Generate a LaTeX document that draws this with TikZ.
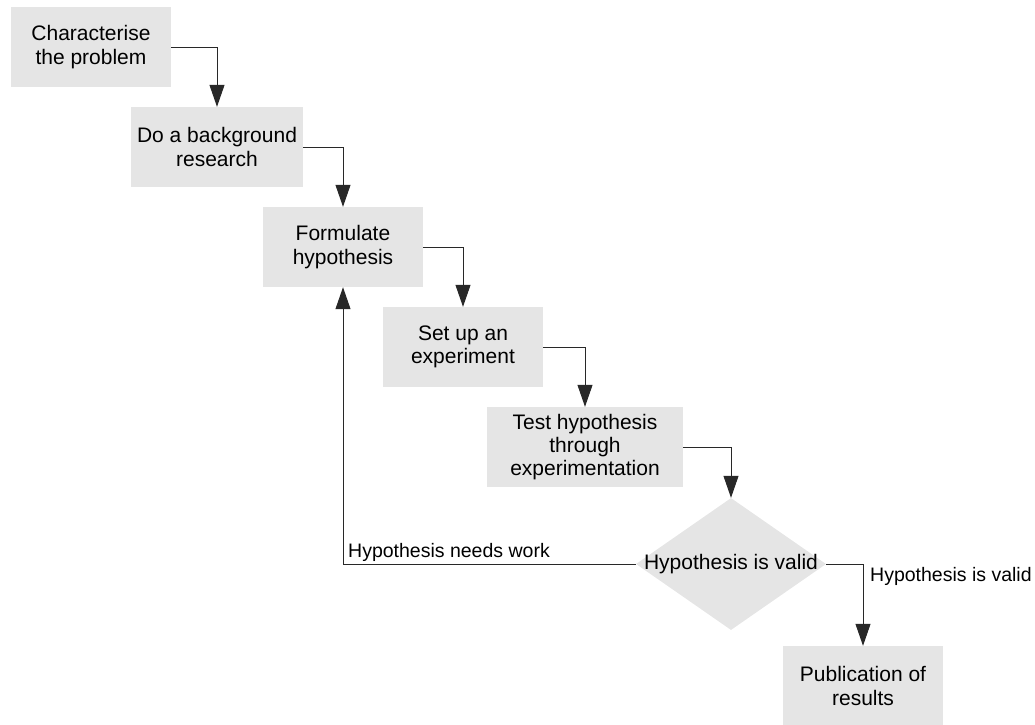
\documentclass[tikz,border=0pt]{standalone}
\usepackage{fontspec}
\setmainfont{Liberation Sans}
\usetikzlibrary{arrows.meta,shapes.geometric}

\definecolor{boxfill}{RGB}{229,229,229}
\definecolor{inkline}{RGB}{40,40,40}

\tikzset{
  stepbox/.style={rectangle, fill=boxfill, draw=none, align=center,
    font=\fontsize{21}{23.3}\selectfont, inner sep=0pt},
  decision/.style={diamond, fill=boxfill, draw=none, inner sep=0pt,
    minimum width=190pt, minimum height=132pt},
  decisiontext/.style={font=\fontsize{21}{23.3}\selectfont, inner sep=0pt},
  flow/.style={draw=inkline, line width=1pt,
    -{Triangle[length=22pt,width=15pt]}},
  edgelabel/.style={font=\fontsize{19.5}{22}\selectfont, inner sep=0pt}
}

\begin{document}
\begin{tikzpicture}[x=1pt,y=-1pt]
  \useasboundingbox (0,0) rectangle (1035,724);

  % process steps
  \node[stepbox, minimum width=160pt, minimum height=80pt] (charac) at (91,47)
    {Characterise\\the problem};
  \node[stepbox, minimum width=172pt, minimum height=80pt] (research) at (217,147)
    {Do a background\\research};
  \node[stepbox, minimum width=160pt, minimum height=80pt] (formulate) at (343,247)
    {Formulate\\hypothesis};
  \node[stepbox, minimum width=160pt, minimum height=80pt] (setup) at (463,347)
    {Set up an\\experiment};
  \node[stepbox, minimum width=196pt, minimum height=80pt] (test) at (585,447)
    {Test hypothesis\\through\\experimentation};
  % decision: the caption is wider than the diamond itself
  \node[decision] (valid) at (731,564) {};
  \node[decisiontext] (validtext) at (valid.center) {Hypothesis is valid};
  \node[stepbox, minimum width=160pt, minimum height=80pt] (publish) at (863,686)
    {Publication of\\results};

  % connectors
  \draw[flow] (charac.east) -| (research.north);
  \draw[flow] (research.east) -| (formulate.north);
  \draw[flow] (formulate.east) -| (setup.north);
  \draw[flow] (setup.east) -| (test.north);
  \draw[flow] (test.east) -| (valid.north);
  \draw[flow] (valid.west) -| (formulate.south);
  \draw[flow] (valid.east) -| (publish.north);

  % branch labels
  \node[edgelabel, anchor=base west] (lblwork) at (348,557) {Hypothesis needs work};
  \node[edgelabel, anchor=base west] (lblvalid) at (870,581) {Hypothesis is valid};
\end{tikzpicture}
\end{document}
